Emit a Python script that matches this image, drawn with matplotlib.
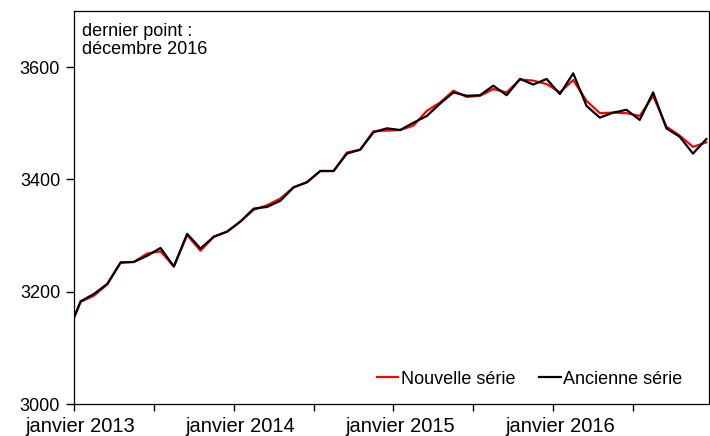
import numpy as np
import matplotlib
matplotlib.use("Agg")
import matplotlib.pyplot as plt

plt.rcParams['font.family'] = ['Liberation Sans', 'DejaVu Sans']

# mois : de décembre 2012 (index -1, hors cadre) à décembre 2016 (index 47)
mois = np.arange(-1, 48)

nouvelle = [3125, 3182, 3193, 3213, 3252, 3253, 3268, 3272, 3245, 3301, 3273,
            3298, 3307, 3325, 3346, 3354, 3366, 3386, 3395, 3415, 3415, 3448,
            3453, 3486, 3487, 3488, 3496, 3522, 3537, 3558, 3547, 3549, 3561,
            3555, 3578, 3576, 3570, 3555, 3577, 3540, 3518, 3519, 3518, 3513,
            3549, 3494, 3478, 3458, 3466]

ancienne = [3125, 3183, 3196, 3214, 3252, 3253, 3264, 3278, 3245, 3303, 3277,
            3298, 3307, 3325, 3348, 3351, 3362, 3386, 3395, 3415, 3415, 3446,
            3453, 3484, 3491, 3488, 3501, 3513, 3535, 3555, 3549, 3550, 3567,
            3550, 3579, 3569, 3579, 3552, 3589, 3531, 3510, 3519, 3524, 3506,
            3555, 3491, 3476, 3446, 3472]

etiquettes = ['janvier 2013', 'janvier 2014', 'janvier 2015', 'janvier 2016']

fig = plt.figure(figsize=(7.1, 4.36), dpi=100)
ax = fig.add_axes([74/710, 32/436, 635/710, 393/436])

x = mois + 0.5
ax.plot(x, nouvelle, color='#ff0000', lw=1.6, label='Nouvelle série')
ax.plot(x, ancienne, color='black', lw=1.6, label='Ancienne série')

ax.set_xlim(0, 47.7)
ax.set_ylim(3000, 3700)
ax.set_yticks([3000, 3200, 3400, 3600])
# traits tous les 6 mois, étiquettes centrées sur le mois de janvier
ax.set_xticks(np.arange(0, 48, 6), minor=True)
ax.set_xticks(np.arange(0, 48, 12) + 0.5)
ax.set_xticklabels(etiquettes)
ax.tick_params(axis='x', which='major', length=0, labelsize=14.5, pad=9)
ax.tick_params(axis='x', which='minor', direction='out', length=5, width=1)
ax.tick_params(axis='y', direction='out', length=6, width=1, labelsize=13, pad=4)

for s in ax.spines.values():
    s.set_linewidth(0.9)

fig.text(82/710, (436-23)/436, 'dernier point :\ndécembre 2016',
         ha='left', va='top', fontsize=13, linespacing=1.05)

ax.legend(loc='center right', ncol=2, frameon=False, fontsize=13,
          handlelength=1.2, handletextpad=0.15, columnspacing=1.3,
          bbox_to_anchor=(0.984, 0.0636))

fig.savefig('out.png', dpi=100)
